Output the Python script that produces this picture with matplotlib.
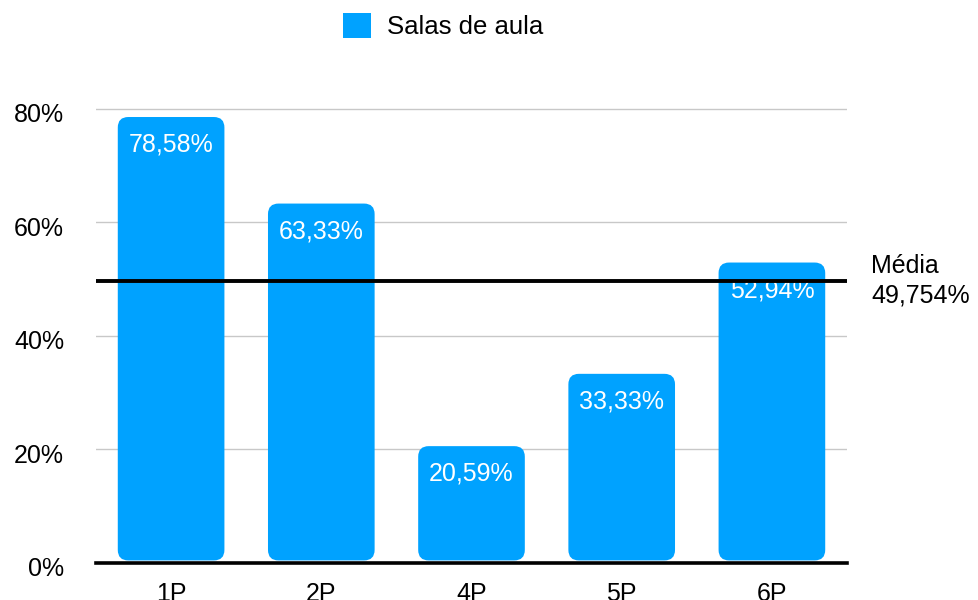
import matplotlib
matplotlib.use("Agg")
import matplotlib.pyplot as plt
from matplotlib.patches import FancyBboxPatch, Patch
from matplotlib.transforms import ScaledTranslation

plt.rcParams['font.family'] = ['Liberation Sans', 'DejaVu Sans']

categories = ['1P', '2P', '4P', '5P', '6P']
values = [78.58, 63.33, 20.59, 33.33, 52.94]
value_labels = ['78,58%', '63,33%', '20,59%', '33,33%', '52,94%']
mean_value = 49.754
mean_label = 'Média\n49,754%'
yticks = [0, 20, 40, 60, 80]
ytick_labels = ['0%', '20%', '40%', '60%', '80%']
series_name = 'Salas de aula'

blue = '#00A2FF'
fs = 18

fig = plt.figure(figsize=(9.79, 6.0), dpi=100)
ax = fig.add_axes([96/979, 1-563/600, (847-96)/979, (563-97.6)/600])
ax.set_xlim(-0.5, len(categories)-0.5)
ax.set_ylim(0, 82)

# bars as rounded boxes
width = 0.71
r = 0.07
px_per_x = 751/5
px_per_y = (563-97.6)/82
aspect = (px_per_x/px_per_y)
for i, v in enumerate(values):
    b0 = 0.45
    p = FancyBboxPatch((i - width/2, b0), width, v - b0,
                       boxstyle=f"round,pad=0,rounding_size={r}",
                       mutation_aspect=aspect,
                       facecolor=blue, edgecolor='none', zorder=2)
    ax.add_patch(p)
    ax.annotate(value_labels[i], (i, v), xytext=(0, -20), textcoords='offset points',
                ha='center', va='center', color='white', fontsize=fs, zorder=3)

# gridlines
for t in yticks[1:]:
    ax.axhline(t, color='#c8c8c8', lw=1.0, zorder=1)
ax.axhline(0, color='black', lw=2.6, zorder=4, clip_on=False)

# mean line
ax.axhline(mean_value, color='black', lw=2.8, zorder=5)
ax.text((871-96)/751, mean_value, mean_label, transform=ax.get_yaxis_transform(),
        ha='left', va='center', fontsize=fs, linespacing=1.3, color='black')

ax.set_yticks(yticks)
ax.set_yticklabels(ytick_labels, fontsize=fs)
ax.set_xticks(range(len(categories)))
ax.set_xticklabels(categories, fontsize=fs)
ax.tick_params(axis='y', length=0, pad=23)
ax.tick_params(axis='x', length=0, pad=13.5)
off = ScaledTranslation(0, -4/100, fig.dpi_scale_trans)
for lbl in ax.get_yticklabels():
    lbl.set_transform(lbl.get_transform() + off)
for s in ax.spines.values():
    s.set_visible(False)

fig.legend(handles=[Patch(facecolor=blue, edgecolor='none', label=series_name)],
           loc='center', bbox_to_anchor=((343+543)/2/979, 1-26/600), frameon=False,
           fontsize=18.5, handlelength=1.1, handleheight=1.1, handletextpad=0.6)

fig.savefig('out.png', dpi=100)
